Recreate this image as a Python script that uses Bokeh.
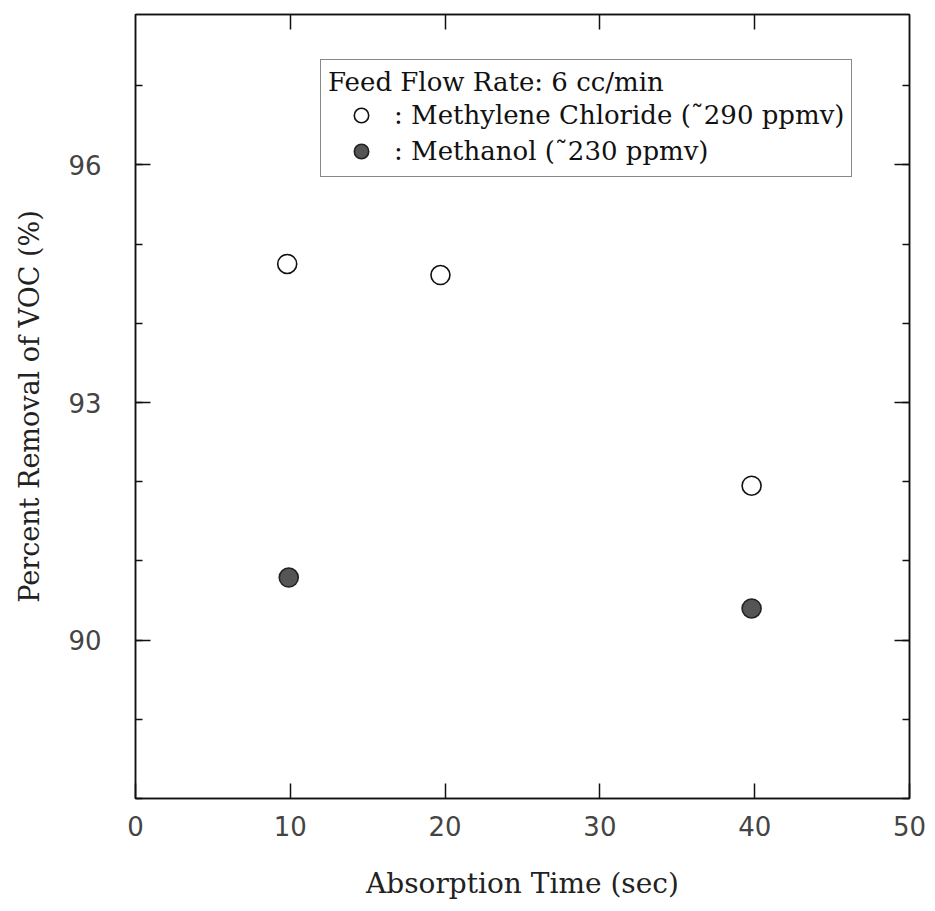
from bokeh.plotting import figure
from bokeh.models import Range1d, FixedTicker, LinearAxis, Legend, LegendItem
from bokeh.embed import file_html
from bokeh.resources import INLINE

# ---- data ----
mc_time = [9.8, 19.7, 39.8]          # Methylene Chloride, absorption time (sec)
mc_removal = [94.75, 94.61, 91.95]   # percent removal
meoh_time = [9.9, 39.8]              # Methanol
meoh_removal = [90.79, 90.40]

x_ticks = [0, 10, 20, 30, 40, 50]
x_top_ticks = [10, 20, 30, 40]
y_ticks = [90, 93, 96]
y_minor = [88, 89, 90, 91, 92, 93, 94, 95, 96, 97]

legend_title = "Feed Flow Rate: 6 cc/min"
mc_label = ": Methylene Chloride (\u02dc290 ppmv)"
meoh_label = ": Methanol (\u02dc230 ppmv)"

SERIF = "DejaVu Serif"
SANS = "DejaVu Sans"
INK = "#111111"

p = figure(width=935, height=911, output_backend="svg", toolbar_location=None,
           x_range=Range1d(0, 50), y_range=Range1d(88, 97.9),
           min_border_left=135, min_border_right=26, min_border_top=14,
           min_border_bottom=113, background_fill_color="white",
           border_fill_color="white")

p.xgrid.visible = False
p.ygrid.visible = False
p.outline_line_color = INK
p.outline_line_width = 1.5

# bottom axis
xa = p.xaxis[0]
xa.ticker = FixedTicker(ticks=x_ticks, minor_ticks=[])
xa.major_tick_in = 15
xa.major_tick_out = 0
xa.minor_tick_in = 0
xa.minor_tick_out = 0
xa.axis_line_color = INK
xa.axis_line_width = 1.5
xa.major_tick_line_color = INK
xa.major_tick_line_width = 1.5
xa.major_label_text_font = SANS
xa.major_label_text_font_size = "26px"
xa.major_label_text_color = "#444444"
xa.major_label_standoff = 17
xa.axis_label = "Absorption Time (sec)"
xa.axis_label_text_font = SERIF
xa.axis_label_text_font_style = "normal"
xa.axis_label_text_font_size = "28px"
xa.axis_label_text_color = "#222222"
xa.axis_label_standoff = 28

# left axis
ya = p.yaxis[0]
ya.ticker = FixedTicker(ticks=y_ticks, minor_ticks=y_minor)
ya.major_tick_in = 15
ya.major_tick_out = 0
ya.minor_tick_in = 7
ya.minor_tick_out = 0
ya.axis_line_color = INK
ya.axis_line_width = 1.5
ya.major_tick_line_color = INK
ya.major_tick_line_width = 1.5
ya.minor_tick_line_color = INK
ya.minor_tick_line_width = 1.5
ya.major_label_text_font = SANS
ya.major_label_text_font_size = "26px"
ya.major_label_text_color = "#444444"
ya.major_label_standoff = 34
ya.axis_label = "Percent Removal of VOC (%)"
ya.axis_label_text_font = SERIF
ya.axis_label_text_font_style = "normal"
ya.axis_label_text_font_size = "27px"
ya.axis_label_text_color = "#222222"
ya.axis_label_standoff = 20

# top mirror axis (ticks only)
top = LinearAxis(ticker=FixedTicker(ticks=x_top_ticks, minor_ticks=[]),
                 major_tick_in=15, major_tick_out=0, minor_tick_in=0, minor_tick_out=0,
                 major_label_overrides={t: "" for t in x_top_ticks},
                 major_label_standoff=0,
                 axis_line_color=INK, axis_line_width=1.5,
                 major_tick_line_color=INK, major_tick_line_width=1.5)
p.add_layout(top, "above")

# right mirror axis (ticks only)
right = LinearAxis(ticker=FixedTicker(ticks=y_ticks, minor_ticks=y_minor),
                   major_tick_in=15, major_tick_out=0, minor_tick_in=7, minor_tick_out=0,
                   major_label_overrides={t: "" for t in y_ticks},
                   major_label_standoff=0,
                   axis_line_color=INK, axis_line_width=1.5,
                   major_tick_line_color=INK, major_tick_line_width=1.5,
                   minor_tick_line_color=INK, minor_tick_line_width=1.5)
p.add_layout(right, "right")

r_mc = p.scatter(mc_time, mc_removal, size=19, marker="circle",
                 fill_color="white", line_color=INK, line_width=1.6)
r_meoh = p.scatter(meoh_time, meoh_removal, size=19, marker="circle",
                   fill_color="#555555", line_color="#222222", line_width=1.6)

legend = Legend(items=[LegendItem(label=mc_label, renderers=[r_mc]),
                       LegendItem(label=meoh_label, renderers=[r_meoh])],
                location=(185, 621),
                title=legend_title,
                title_text_font=SERIF, title_text_font_style="normal",
                title_text_font_size="26px", title_text_color=INK,
                title_standoff=0,
                label_text_font=SERIF, label_text_font_size="26px",
                label_text_color=INK,
                glyph_width=66, glyph_height=36, label_height=30,
                label_standoff=0, spacing=0, padding=7, margin=0,
                border_line_color=INK, border_line_width=1.5,
                background_fill_color="white", background_fill_alpha=1.0)
p.add_layout(legend, "center")

open("out.html", "w").write(file_html(p, INLINE))
